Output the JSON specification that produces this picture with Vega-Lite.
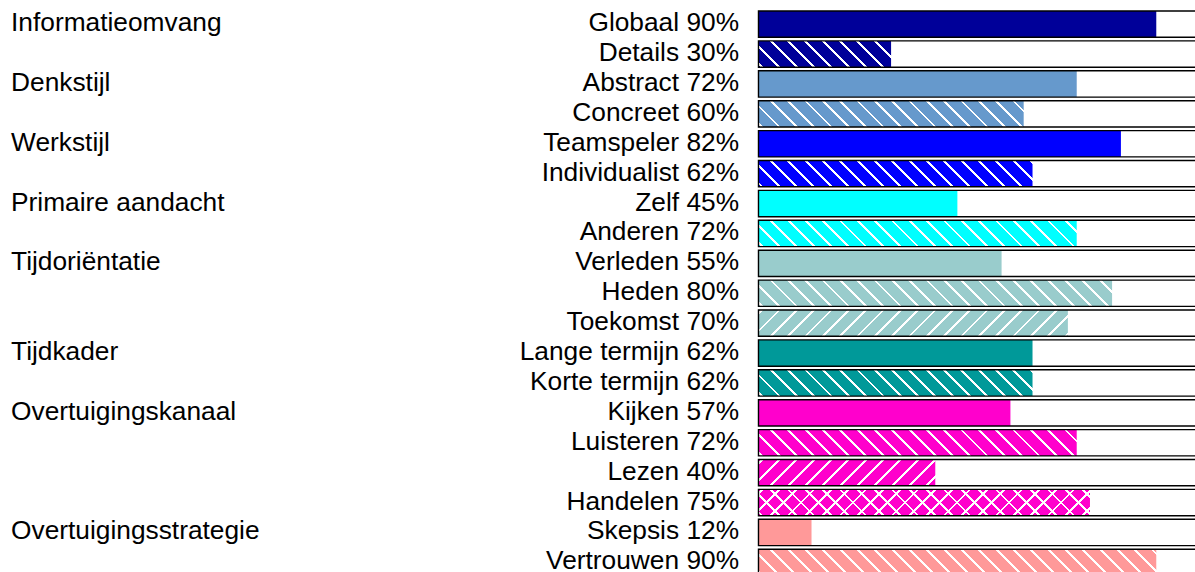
{
  "$schema": "https://vega.github.io/schema/vega-lite/v6.json",
  "width": 1195,
  "height": 586.5,
  "autosize": "none",
  "padding": 0,
  "background": "white",
  "config": {"view": {"stroke": null}},
  "data": {
    "values": [
      {"i": 0, "category": "Informatieomvang", "item": "Globaal", "pct": 90, "hatch": "none"},
      {"i": 1, "category": "Informatieomvang", "item": "Details", "pct": 30, "hatch": "back"},
      {"i": 2, "category": "Denkstijl", "item": "Abstract", "pct": 72, "hatch": "none"},
      {"i": 3, "category": "Denkstijl", "item": "Concreet", "pct": 60, "hatch": "back"},
      {"i": 4, "category": "Werkstijl", "item": "Teamspeler", "pct": 82, "hatch": "none"},
      {"i": 5, "category": "Werkstijl", "item": "Individualist", "pct": 62, "hatch": "back"},
      {"i": 6, "category": "Primaire aandacht", "item": "Zelf", "pct": 45, "hatch": "none"},
      {"i": 7, "category": "Primaire aandacht", "item": "Anderen", "pct": 72, "hatch": "back"},
      {"i": 8, "category": "Tijdoriëntatie", "item": "Verleden", "pct": 55, "hatch": "none"},
      {"i": 9, "category": "Tijdoriëntatie", "item": "Heden", "pct": 80, "hatch": "back"},
      {"i": 10, "category": "Tijdoriëntatie", "item": "Toekomst", "pct": 70, "hatch": "fwd"},
      {"i": 11, "category": "Tijdkader", "item": "Lange termijn", "pct": 62, "hatch": "none"},
      {"i": 12, "category": "Tijdkader", "item": "Korte termijn", "pct": 62, "hatch": "back"},
      {"i": 13, "category": "Overtuigingskanaal", "item": "Kijken", "pct": 57, "hatch": "none"},
      {"i": 14, "category": "Overtuigingskanaal", "item": "Luisteren", "pct": 72, "hatch": "back"},
      {"i": 15, "category": "Overtuigingskanaal", "item": "Lezen", "pct": 40, "hatch": "fwd"},
      {"i": 16, "category": "Overtuigingskanaal", "item": "Handelen", "pct": 75, "hatch": "cross"},
      {"i": 17, "category": "Overtuigingsstrategie", "item": "Skepsis", "pct": 12, "hatch": "none"},
      {"i": 18, "category": "Overtuigingsstrategie", "item": "Vertrouwen", "pct": 90, "hatch": "back"}
    ]
  },
  "encoding": {
    "y": {"field": "i", "type": "ordinal", "axis": null, "scale": {"paddingInner": 0.12, "paddingOuter": 0.368}}
  },
  "layer": [
    {
      "mark": {"type": "bar"},
      "encoding": {
        "x": {"field": "pct", "type": "quantitative", "axis": null, "scale": {"domain": [-171.6, 98.76], "nice": false, "zero": false}},
        "x2": {"datum": 0},
        "color": {
          "field": "category", "type": "nominal", "legend": null,
          "scale": {
            "domain": ["Informatieomvang", "Denkstijl", "Werkstijl", "Primaire aandacht", "Tijdoriëntatie", "Tijdkader", "Overtuigingskanaal", "Overtuigingsstrategie"],
            "range": ["#000099", "#6699CC", "#0000FF", "#00FFFF", "#99CCCC", "#009999", "#FF00CC", "#FF9999"]
          }
        }
      }
    },
    {
      "transform": [{"filter": "datum.hatch == 'back' || datum.hatch == 'cross'"}],
      "mark": {
        "type": "bar", "strokeWidth": 0,
        "fill": {
          "gradient": "linear", "x1": 0, "y1": 1, "x2": 1.05579, "y2": 0.93715,
          "stops": [
            {"offset": 0, "color": "rgba(255,255,255,0)"},
            {"offset": 0.005, "color": "rgba(255,255,255,0)"}, {"offset": 0.005, "color": "white"}, {"offset": 0.011, "color": "white"}, {"offset": 0.011, "color": "rgba(255,255,255,0)"},
            {"offset": 0.042, "color": "rgba(255,255,255,0)"}, {"offset": 0.042, "color": "white"}, {"offset": 0.048, "color": "white"}, {"offset": 0.048, "color": "rgba(255,255,255,0)"},
            {"offset": 0.079, "color": "rgba(255,255,255,0)"}, {"offset": 0.079, "color": "white"}, {"offset": 0.085, "color": "white"}, {"offset": 0.085, "color": "rgba(255,255,255,0)"},
            {"offset": 0.116, "color": "rgba(255,255,255,0)"}, {"offset": 0.116, "color": "white"}, {"offset": 0.122, "color": "white"}, {"offset": 0.122, "color": "rgba(255,255,255,0)"},
            {"offset": 0.153, "color": "rgba(255,255,255,0)"}, {"offset": 0.153, "color": "white"}, {"offset": 0.159, "color": "white"}, {"offset": 0.159, "color": "rgba(255,255,255,0)"},
            {"offset": 0.19, "color": "rgba(255,255,255,0)"}, {"offset": 0.19, "color": "white"}, {"offset": 0.196, "color": "white"}, {"offset": 0.196, "color": "rgba(255,255,255,0)"},
            {"offset": 0.227, "color": "rgba(255,255,255,0)"}, {"offset": 0.227, "color": "white"}, {"offset": 0.233, "color": "white"}, {"offset": 0.233, "color": "rgba(255,255,255,0)"},
            {"offset": 0.264, "color": "rgba(255,255,255,0)"}, {"offset": 0.264, "color": "white"}, {"offset": 0.27, "color": "white"}, {"offset": 0.27, "color": "rgba(255,255,255,0)"},
            {"offset": 0.301, "color": "rgba(255,255,255,0)"}, {"offset": 0.301, "color": "white"}, {"offset": 0.307, "color": "white"}, {"offset": 0.307, "color": "rgba(255,255,255,0)"},
            {"offset": 0.338, "color": "rgba(255,255,255,0)"}, {"offset": 0.338, "color": "white"}, {"offset": 0.344, "color": "white"}, {"offset": 0.344, "color": "rgba(255,255,255,0)"},
            {"offset": 0.375, "color": "rgba(255,255,255,0)"}, {"offset": 0.375, "color": "white"}, {"offset": 0.381, "color": "white"}, {"offset": 0.381, "color": "rgba(255,255,255,0)"},
            {"offset": 0.412, "color": "rgba(255,255,255,0)"}, {"offset": 0.412, "color": "white"}, {"offset": 0.418, "color": "white"}, {"offset": 0.418, "color": "rgba(255,255,255,0)"},
            {"offset": 0.449, "color": "rgba(255,255,255,0)"}, {"offset": 0.449, "color": "white"}, {"offset": 0.455, "color": "white"}, {"offset": 0.455, "color": "rgba(255,255,255,0)"},
            {"offset": 0.486, "color": "rgba(255,255,255,0)"}, {"offset": 0.486, "color": "white"}, {"offset": 0.492, "color": "white"}, {"offset": 0.492, "color": "rgba(255,255,255,0)"},
            {"offset": 0.523, "color": "rgba(255,255,255,0)"}, {"offset": 0.523, "color": "white"}, {"offset": 0.529, "color": "white"}, {"offset": 0.529, "color": "rgba(255,255,255,0)"},
            {"offset": 0.56, "color": "rgba(255,255,255,0)"}, {"offset": 0.56, "color": "white"}, {"offset": 0.566, "color": "white"}, {"offset": 0.566, "color": "rgba(255,255,255,0)"},
            {"offset": 0.597, "color": "rgba(255,255,255,0)"}, {"offset": 0.597, "color": "white"}, {"offset": 0.603, "color": "white"}, {"offset": 0.603, "color": "rgba(255,255,255,0)"},
            {"offset": 0.634, "color": "rgba(255,255,255,0)"}, {"offset": 0.634, "color": "white"}, {"offset": 0.64, "color": "white"}, {"offset": 0.64, "color": "rgba(255,255,255,0)"},
            {"offset": 0.671, "color": "rgba(255,255,255,0)"}, {"offset": 0.671, "color": "white"}, {"offset": 0.677, "color": "white"}, {"offset": 0.677, "color": "rgba(255,255,255,0)"},
            {"offset": 0.708, "color": "rgba(255,255,255,0)"}, {"offset": 0.708, "color": "white"}, {"offset": 0.714, "color": "white"}, {"offset": 0.714, "color": "rgba(255,255,255,0)"},
            {"offset": 0.745, "color": "rgba(255,255,255,0)"}, {"offset": 0.745, "color": "white"}, {"offset": 0.751, "color": "white"}, {"offset": 0.751, "color": "rgba(255,255,255,0)"},
            {"offset": 0.782, "color": "rgba(255,255,255,0)"}, {"offset": 0.782, "color": "white"}, {"offset": 0.788, "color": "white"}, {"offset": 0.788, "color": "rgba(255,255,255,0)"},
            {"offset": 0.819, "color": "rgba(255,255,255,0)"}, {"offset": 0.819, "color": "white"}, {"offset": 0.825, "color": "white"}, {"offset": 0.825, "color": "rgba(255,255,255,0)"},
            {"offset": 0.856, "color": "rgba(255,255,255,0)"}, {"offset": 0.856, "color": "white"}, {"offset": 0.862, "color": "white"}, {"offset": 0.862, "color": "rgba(255,255,255,0)"},
            {"offset": 0.893, "color": "rgba(255,255,255,0)"}, {"offset": 0.893, "color": "white"}, {"offset": 0.899, "color": "white"}, {"offset": 0.899, "color": "rgba(255,255,255,0)"},
            {"offset": 0.93, "color": "rgba(255,255,255,0)"}, {"offset": 0.93, "color": "white"}, {"offset": 0.936, "color": "white"}, {"offset": 0.936, "color": "rgba(255,255,255,0)"},
            {"offset": 0.967, "color": "rgba(255,255,255,0)"}, {"offset": 0.967, "color": "white"}, {"offset": 0.973, "color": "white"}, {"offset": 0.973, "color": "rgba(255,255,255,0)"},
            {"offset": 1, "color": "rgba(255,255,255,0)"}
          ]
        }
      },
      "encoding": {
        "x": {"datum": 0, "type": "quantitative"},
        "x2": {"datum": 100}
      }
    },
    {
      "transform": [{"filter": "datum.hatch == 'fwd' || datum.hatch == 'cross'"}],
      "mark": {
        "type": "bar", "strokeWidth": 0,
        "fill": {
          "gradient": "linear", "x1": 0, "y1": 0, "x2": 1.05579, "y2": 0.06285,
          "stops": [
            {"offset": 0, "color": "rgba(255,255,255,0)"},
            {"offset": 0.005, "color": "rgba(255,255,255,0)"}, {"offset": 0.005, "color": "white"}, {"offset": 0.011, "color": "white"}, {"offset": 0.011, "color": "rgba(255,255,255,0)"},
            {"offset": 0.042, "color": "rgba(255,255,255,0)"}, {"offset": 0.042, "color": "white"}, {"offset": 0.048, "color": "white"}, {"offset": 0.048, "color": "rgba(255,255,255,0)"},
            {"offset": 0.079, "color": "rgba(255,255,255,0)"}, {"offset": 0.079, "color": "white"}, {"offset": 0.085, "color": "white"}, {"offset": 0.085, "color": "rgba(255,255,255,0)"},
            {"offset": 0.116, "color": "rgba(255,255,255,0)"}, {"offset": 0.116, "color": "white"}, {"offset": 0.122, "color": "white"}, {"offset": 0.122, "color": "rgba(255,255,255,0)"},
            {"offset": 0.153, "color": "rgba(255,255,255,0)"}, {"offset": 0.153, "color": "white"}, {"offset": 0.159, "color": "white"}, {"offset": 0.159, "color": "rgba(255,255,255,0)"},
            {"offset": 0.19, "color": "rgba(255,255,255,0)"}, {"offset": 0.19, "color": "white"}, {"offset": 0.196, "color": "white"}, {"offset": 0.196, "color": "rgba(255,255,255,0)"},
            {"offset": 0.227, "color": "rgba(255,255,255,0)"}, {"offset": 0.227, "color": "white"}, {"offset": 0.233, "color": "white"}, {"offset": 0.233, "color": "rgba(255,255,255,0)"},
            {"offset": 0.264, "color": "rgba(255,255,255,0)"}, {"offset": 0.264, "color": "white"}, {"offset": 0.27, "color": "white"}, {"offset": 0.27, "color": "rgba(255,255,255,0)"},
            {"offset": 0.301, "color": "rgba(255,255,255,0)"}, {"offset": 0.301, "color": "white"}, {"offset": 0.307, "color": "white"}, {"offset": 0.307, "color": "rgba(255,255,255,0)"},
            {"offset": 0.338, "color": "rgba(255,255,255,0)"}, {"offset": 0.338, "color": "white"}, {"offset": 0.344, "color": "white"}, {"offset": 0.344, "color": "rgba(255,255,255,0)"},
            {"offset": 0.375, "color": "rgba(255,255,255,0)"}, {"offset": 0.375, "color": "white"}, {"offset": 0.381, "color": "white"}, {"offset": 0.381, "color": "rgba(255,255,255,0)"},
            {"offset": 0.412, "color": "rgba(255,255,255,0)"}, {"offset": 0.412, "color": "white"}, {"offset": 0.418, "color": "white"}, {"offset": 0.418, "color": "rgba(255,255,255,0)"},
            {"offset": 0.449, "color": "rgba(255,255,255,0)"}, {"offset": 0.449, "color": "white"}, {"offset": 0.455, "color": "white"}, {"offset": 0.455, "color": "rgba(255,255,255,0)"},
            {"offset": 0.486, "color": "rgba(255,255,255,0)"}, {"offset": 0.486, "color": "white"}, {"offset": 0.492, "color": "white"}, {"offset": 0.492, "color": "rgba(255,255,255,0)"},
            {"offset": 0.523, "color": "rgba(255,255,255,0)"}, {"offset": 0.523, "color": "white"}, {"offset": 0.529, "color": "white"}, {"offset": 0.529, "color": "rgba(255,255,255,0)"},
            {"offset": 0.56, "color": "rgba(255,255,255,0)"}, {"offset": 0.56, "color": "white"}, {"offset": 0.566, "color": "white"}, {"offset": 0.566, "color": "rgba(255,255,255,0)"},
            {"offset": 0.597, "color": "rgba(255,255,255,0)"}, {"offset": 0.597, "color": "white"}, {"offset": 0.603, "color": "white"}, {"offset": 0.603, "color": "rgba(255,255,255,0)"},
            {"offset": 0.634, "color": "rgba(255,255,255,0)"}, {"offset": 0.634, "color": "white"}, {"offset": 0.64, "color": "white"}, {"offset": 0.64, "color": "rgba(255,255,255,0)"},
            {"offset": 0.671, "color": "rgba(255,255,255,0)"}, {"offset": 0.671, "color": "white"}, {"offset": 0.677, "color": "white"}, {"offset": 0.677, "color": "rgba(255,255,255,0)"},
            {"offset": 0.708, "color": "rgba(255,255,255,0)"}, {"offset": 0.708, "color": "white"}, {"offset": 0.714, "color": "white"}, {"offset": 0.714, "color": "rgba(255,255,255,0)"},
            {"offset": 0.745, "color": "rgba(255,255,255,0)"}, {"offset": 0.745, "color": "white"}, {"offset": 0.751, "color": "white"}, {"offset": 0.751, "color": "rgba(255,255,255,0)"},
            {"offset": 0.782, "color": "rgba(255,255,255,0)"}, {"offset": 0.782, "color": "white"}, {"offset": 0.788, "color": "white"}, {"offset": 0.788, "color": "rgba(255,255,255,0)"},
            {"offset": 0.819, "color": "rgba(255,255,255,0)"}, {"offset": 0.819, "color": "white"}, {"offset": 0.825, "color": "white"}, {"offset": 0.825, "color": "rgba(255,255,255,0)"},
            {"offset": 0.856, "color": "rgba(255,255,255,0)"}, {"offset": 0.856, "color": "white"}, {"offset": 0.862, "color": "white"}, {"offset": 0.862, "color": "rgba(255,255,255,0)"},
            {"offset": 0.893, "color": "rgba(255,255,255,0)"}, {"offset": 0.893, "color": "white"}, {"offset": 0.899, "color": "white"}, {"offset": 0.899, "color": "rgba(255,255,255,0)"},
            {"offset": 0.93, "color": "rgba(255,255,255,0)"}, {"offset": 0.93, "color": "white"}, {"offset": 0.936, "color": "white"}, {"offset": 0.936, "color": "rgba(255,255,255,0)"},
            {"offset": 0.967, "color": "rgba(255,255,255,0)"}, {"offset": 0.967, "color": "white"}, {"offset": 0.973, "color": "white"}, {"offset": 0.973, "color": "rgba(255,255,255,0)"},
            {"offset": 1, "color": "rgba(255,255,255,0)"}
          ]
        }
      },
      "encoding": {
        "x": {"datum": 0, "type": "quantitative"},
        "x2": {"datum": 100}
      }
    },
    {
      "mark": {"type": "bar", "filled": false, "color": "black", "strokeWidth": 1.4},
      "encoding": {
        "x": {"datum": 0, "type": "quantitative"},
        "x2": {"datum": 100}
      }
    },
    {
      "transform": [{"calculate": "datum.item + ' ' + datum.pct + '%'", "as": "label"}],
      "mark": {"type": "text", "align": "right", "baseline": "middle", "dy": -1, "font": "Liberation Sans", "fontSize": 26.3, "color": "black"},
      "encoding": {
        "x": {"datum": -4.4, "type": "quantitative"},
        "text": {"field": "label"}
      }
    },
    {
      "transform": [
        {"joinaggregate": [{"op": "min", "field": "i", "as": "first"}], "groupby": ["category"]},
        {"filter": "datum.i == datum.first"}
      ],
      "mark": {"type": "text", "align": "left", "baseline": "middle", "dy": -1, "font": "Liberation Sans", "fontSize": 26.3, "color": "black"},
      "encoding": {
        "x": {"datum": -169.1, "type": "quantitative"},
        "text": {"field": "category"}
      }
    }
  ]
}
